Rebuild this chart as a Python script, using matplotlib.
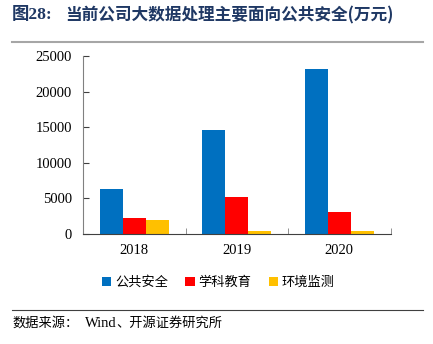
import matplotlib
matplotlib.use("Agg")
import matplotlib.pyplot as plt
import numpy as np

years = ['2018', '2019', '2020']
public_safety = [6350, 14600, 23250]
education = [2200, 5200, 3100]
environment = [1980, 380, 420]
series_names = ['公共安全', '学科教育', '环境监测']
colors = ['#0070C0', '#FF0000', '#FFC000']
y_ticks = [0, 5000, 10000, 15000, 20000, 25000]

cjk = ['Noto Sans CJK SC', 'DejaVu Sans']
serif = ['Liberation Serif', 'Noto Sans CJK SC']

fig = plt.figure(figsize=(4.33, 3.44), dpi=100)
ax = fig.add_axes([0.192, 0.320, 0.710, 0.517])

x = np.arange(len(years))
w = 0.225
for i, (vals, name, c) in enumerate(zip([public_safety, education, environment], series_names, colors)):
    ax.bar(x + (i - 1) * w, vals, width=w, color=c, label=name)

ax.set_xlim(-0.5, 2.5)
ax.set_ylim(0, 25000)
ax.set_yticks(y_ticks)
ax.set_yticklabels([str(v) for v in y_ticks], family=serif, fontsize=10.5)
ax.set_xticks(x)
ax.set_xticklabels(years, family=serif, fontsize=10.5)
ax.tick_params(axis='x', which='major', length=0, pad=7)
ax.set_xticks([0.5, 1.5, 2.5], minor=True)
ax.tick_params(axis='x', which='minor', direction='in', length=4, color='#808080')
ax.tick_params(axis='y', direction='in', length=4, color='#404040', pad=8)
for s in ['top', 'right']:
    ax.spines[s].set_visible(False)
ax.spines['left'].set_color('#808080')
ax.spines['bottom'].set_color('#404040')

ax.legend(loc='upper center', bbox_to_anchor=(0.44, -0.17), ncol=3, frameon=False,
          prop={'family': cjk, 'size': 9.5}, handlelength=0.7, handleheight=0.7,
          handletextpad=0.3, columnspacing=1.3)

# title
fig.text(0.028, 0.955, '图28:', family=serif, fontsize=12.5, fontweight='bold',
         color='#1F3864', va='center')
fig.text(0.150, 0.955, '当前公司大数据处理主要面向公共安全(万元)', family=cjk, fontsize=12,
         fontweight='bold', color='#1F3864', va='center')
fig.add_artist(plt.Line2D([0.028, 0.978], [0.878, 0.878], color='#A6A6A6', lw=1.5))

# source
fig.add_artist(plt.Line2D([0.028, 0.978], [0.100, 0.100], color='#404040', lw=0.8))
fig.text(0.028, 0.060, '数据来源：', family=cjk, fontsize=9.5, va='center')
fig.text(0.196, 0.060, 'Wind', family=serif, fontsize=10.5, va='center')
fig.text(0.268, 0.060, '、开源证券研究所', family=cjk, fontsize=9.5, va='center')

fig.savefig('out.png', dpi=100)
